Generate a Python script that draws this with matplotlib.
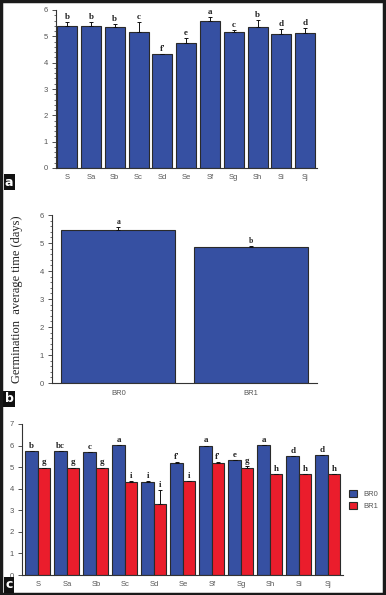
import numpy as np
import matplotlib
matplotlib.use('Agg')
import matplotlib.pyplot as plt
from matplotlib.patches import Rectangle, Patch

# panel a: germination time per treatment
cats = ['S', 'Sa', 'Sb', 'Sc', 'Sd', 'Se', 'Sf', 'Sg', 'Sh', 'Si', 'Sj']
a_vals = [5.38, 5.38, 5.35, 5.15, 4.32, 4.75, 5.60, 5.15, 5.35, 5.10, 5.12]
a_err = [0.18, 0.18, 0.13, 0.40, 0.0, 0.20, 0.15, 0.08, 0.27, 0.17, 0.18]
a_lett = ['b', 'b', 'b', 'c', "f'", 'e', 'a', 'c', 'b', 'd', 'd']

# panel b: BR0 vs BR1
b_cats = ['BR0', 'BR1']
b_vals = [5.47, 4.84]
b_err = [0.10, 0.05]
b_lett = ['a', 'b']

# panel c: both series per treatment
c_br0 = [5.74, 5.74, 5.68, 6.02, 4.33, 5.20, 5.97, 5.33, 6.02, 5.50, 5.55]
c_br0_err = [0.0, 0.0, 0.03, 0.0, 0.03, 0.03, 0.03, 0.0, 0.0, 0.0, 0.0]
c_br1 = [4.98, 4.98, 4.98, 4.32, 3.30, 4.36, 5.20, 4.98, 4.68, 4.68, 4.68]
c_br1_err = [0.0, 0.0, 0.0, 0.03, 0.62, 0.0, 0.03, 0.06, 0.0, 0.0, 0.0]
c_lett0 = ['b', 'bc', 'c', 'a', 'i', "f'", 'a', 'e', 'a', 'd', 'd']
c_lett1 = ['g', 'g', 'g', 'i', 'i', 'i', "f'", 'g', 'h', 'h', 'h']

blue = '#3650a2'
red = '#ea1d2c'
edge = '#2a2a2a'
tickc = '#555555'
sans = 'Liberation Sans'
serif = 'Liberation Serif'

W, H = 386, 595
fig = plt.figure(figsize=(W / 100, H / 100), dpi=100)


def px_axes(l, t, r, b):
    return fig.add_axes([l / W, 1 - b / H, (r - l) / W, (b - t) / H])


def style(ax, ymax, nminor=5):
    for s in ['top', 'right']:
        ax.spines[s].set_visible(False)
    for s in ['left', 'bottom']:
        ax.spines[s].set_color('#333333')
        ax.spines[s].set_linewidth(0.8)
    ax.set_ylim(0, ymax)
    ax.set_yticks(np.arange(0, ymax + 1))
    ax.set_yticks(np.arange(0, ymax + 0.01, 1 / nminor), minor=True)
    ax.tick_params(axis='y', which='major', length=3, width=0.6, labelsize=5.5,
                   labelcolor=tickc, color='#333333', pad=3)
    ax.tick_params(axis='y', which='minor', length=1.5, width=0.5, color='#333333')
    ax.tick_params(axis='x', length=0, labelsize=5.5, labelcolor=tickc, pad=4)
    for t in ax.get_xticklabels() + ax.get_yticklabels():
        t.set_family(sans)


def letters(ax, xs, tops, labs, dy=0.08, fs=6.5):
    for x, t, l in zip(xs, tops, labs):
        ax.text(x, t + dy, l, ha='center', va='bottom', fontsize=fs,
                family=serif, fontweight='bold', color='#222222')


# --- panel a ---
ax1 = px_axes(56, 10, 317, 168)
x = np.arange(len(cats))
ax1.bar(x, a_vals, width=0.84, color=blue, edgecolor=edge, linewidth=0.8)
ax1.errorbar(x, a_vals, yerr=[np.zeros(len(x)), a_err], fmt='none',
             ecolor='#111111', elinewidth=0.7, capsize=1.5, capthick=0.7)
ax1.set_xlim(-0.47, 10.5)
ax1.set_xticks(x)
ax1.set_xticklabels(cats)
style(ax1, 6)
letters(ax1, x, np.array(a_vals) + np.array(a_err), a_lett, dy=0.04)

# --- panel b ---
ax2 = px_axes(52, 215, 317, 383)
xb = np.arange(len(b_cats))
ax2.bar(xb, b_vals, width=0.86, color=blue, edgecolor=edge, linewidth=0.8)
ax2.errorbar(xb, b_vals, yerr=[np.zeros(2), b_err], fmt='none',
             ecolor='#111111', elinewidth=0.7, capsize=1.5, capthick=0.7)
ax2.set_xlim(-0.5, 1.5)
ax2.set_xticks(xb)
ax2.set_xticklabels(b_cats)
style(ax2, 6)
ax2.tick_params(axis='x', pad=5)
letters(ax2, xb, np.array(b_vals) + np.array(b_err), b_lett, dy=0.03, fs=5.5)
ax2.set_ylabel('Germination  average time (days)', family=serif,
               fontsize=9, color='#222222', labelpad=12)

# --- panel c ---
ax3 = px_axes(22, 424, 343, 575)
w = 0.43
ax3.bar(x - w / 2, c_br0, width=w, color=blue, edgecolor=edge, linewidth=0.8, label='BR0')
ax3.bar(x + w / 2, c_br1, width=w, color=red, edgecolor=edge, linewidth=0.8, label='BR1')
ax3.errorbar(x - w / 2, c_br0, yerr=[np.zeros(len(x)), c_br0_err], fmt='none',
             ecolor='#111111', elinewidth=0.7, capsize=1.2, capthick=0.7)
ax3.errorbar(x + w / 2, c_br1, yerr=[np.zeros(len(x)), c_br1_err], fmt='none',
             ecolor='#111111', elinewidth=0.7, capsize=1.2, capthick=0.7)
ax3.set_xlim(-0.55, 10.52)
ax3.set_xticks(x)
ax3.set_xticklabels(cats)
style(ax3, 7, nminor=1)
letters(ax3, x - w / 2, np.array(c_br0) + np.array(c_br0_err), c_lett0, dy=0.06)
letters(ax3, x + w / 2, np.array(c_br1) + np.array(c_br1_err), c_lett1, dy=0.06)

handles = [Patch(facecolor=blue, edgecolor=edge, linewidth=0.8, label='BR0'),
           Patch(facecolor=red, edgecolor=edge, linewidth=0.8, label='BR1')]
fig.legend(handles=handles, loc='center left', bbox_to_anchor=(342 / W, 1 - 500 / H),
           frameon=False, prop={'family': sans, 'size': 5.5}, handlelength=1.0,
           handleheight=1.0, handletextpad=0.9, labelspacing=0.6, labelcolor=tickc)

# panel tags
for lab, yc in [('a', 182), ('b', 399), ('c', 585)]:
    fig.text(9 / W, 1 - yc / H, lab, ha='center', va='center', color='white',
             fontsize=9, fontweight='bold', family='DejaVu Sans',
             bbox=dict(boxstyle='square,pad=0.1', facecolor='#111111', edgecolor='none'))

# outer frame
fig.add_artist(Rectangle((0.002, 0.002), 0.994, 0.996, transform=fig.transFigure,
                         fill=False, edgecolor='#1a1a1a', linewidth=2.5))

fig.savefig('out.png', dpi=100)
